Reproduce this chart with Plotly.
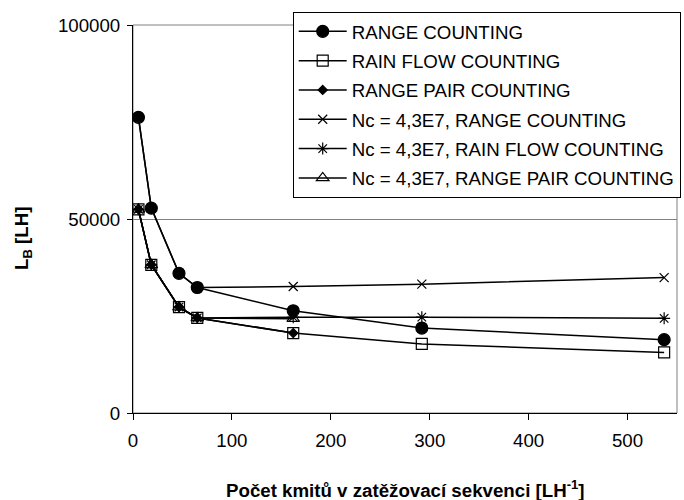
import plotly.graph_objects as go

# ---- data ----
x_vals = [5.5, 18.5, 46.5, 65, 162, 292, 537]
range_counting = [76200, 52800, 36000, 32350, 26350, 21900, 18900]
rain_flow = [52500, 38200, 27300, 24500, 20600, 17800, 15600]
range_pair = [52500, 38200, 27300, 24500, 20600]
nc_range_counting = [76200, 52800, 36000, 32350, 32600, 33200, 34900]
nc_rain_flow = [52500, 38200, 27300, 24500, 24700, 24700, 24400]
nc_range_pair = [52500, 38200, 27300, 24500, 24300]

names = [
    "RANGE COUNTING",
    "RAIN FLOW COUNTING",
    "RANGE PAIR COUNTING",
    "Nc = 4,3E7, RANGE COUNTING",
    "Nc = 4,3E7, RAIN FLOW COUNTING",
    "Nc = 4,3E7, RANGE PAIR COUNTING",
]
series = [range_counting, rain_flow, range_pair,
          nc_range_counting, nc_rain_flow, nc_range_pair]
symbols = ["circle", "square-open", "diamond", "x-thin-open",
           "asterisk-open", "triangle-up-open"]
sizes = [12, 11, 7, 9, 10, 11]

x_ticks = [0, 100, 200, 300, 400, 500]
y_ticks = [0, 50000, 100000]

FONT = "Arial, 'Liberation Sans', sans-serif"
FS = 18.7

fig = go.Figure()
for i, (nm, ys, sym, sz) in enumerate(zip(names, series, symbols, sizes)):
    fig.add_trace(go.Scatter(
        x=x_vals[:len(ys)], y=ys, name=nm, mode="lines+markers",
        legendgroup="g%d" % i,
        line=dict(color="black", width=1.5),
        marker=dict(symbol=sym, size=sz, color="black",
                    line=dict(color="black", width=1.2)),
    ))

L, R, T, B = 133, 7, 25, 87
W, H = 684, 500
pw, ph = W - L - R, H - T - B

fig.update_layout(
    width=W, height=H,
    margin=dict(l=L, r=R, t=T, b=B, autoexpand=False),
    paper_bgcolor="white", plot_bgcolor="white",
    font=dict(family=FONT, size=FS, color="black"),
    showlegend=True,
    legend=dict(
        x=(292.7 - L) / pw, y=(H - B - 11.7) / ph,
        xanchor="left", yanchor="top",
        bgcolor="white", bordercolor="black", borderwidth=1,
        font=dict(family=FONT, size=FS, color="black"),
        tracegroupgap=2.0, itemwidth=48,
    ),
    xaxis=dict(
        range=[0, 550], tickvals=x_ticks, ticks="outside", ticklen=6,
        tickcolor="black", showline=True, linecolor="black", linewidth=1,
        showgrid=False, zeroline=False, tickfont=dict(size=FS),
        ticklabelstandoff=5,
    ),
    yaxis=dict(
        range=[0, 100000], tickvals=y_ticks, tickformat="d", ticks="outside",
        ticklen=5, tickcolor="black", showline=True, linecolor="black",
        linewidth=1, showgrid=True, gridcolor="#808080", gridwidth=1,
        zeroline=False, tickfont=dict(size=FS), ticklabelstandoff=3,
    ),
    shapes=[dict(type="rect", xref="x domain", yref="y domain",
                 x0=0, x1=1, y0=0, y1=1, line=dict(color="#808080", width=1),
                 layer="below")],
    annotations=[
        dict(text="<b>L<sub>B</sub> [LH]</b>", textangle=-90,
             xref="paper", yref="paper",
             x=(23 - L) / pw, y=(H - B - 239) / ph,
             xanchor="center", yanchor="middle", showarrow=False,
             font=dict(family=FONT, size=FS, color="black")),
        dict(text="<b>Počet kmitů v zatěžovací sekvenci [LH<sup>-1</sup>]</b>",
             xref="paper", yref="paper",
             x=0.5, y=(H - B - 489) / ph,
             xanchor="center", yanchor="middle", showarrow=False,
             font=dict(family=FONT, size=FS, color="black")),
    ],
)

fig.write_html("out.html")
